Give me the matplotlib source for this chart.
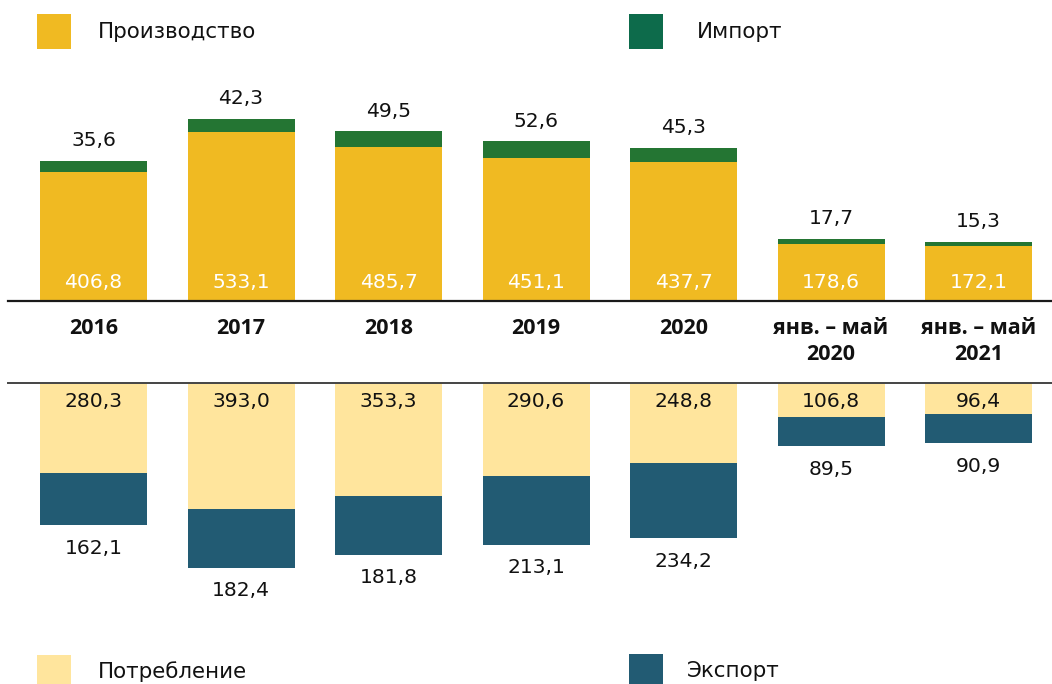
import matplotlib
matplotlib.use("Agg")
import matplotlib.pyplot as plt
from matplotlib.patches import Rectangle

categories = ["2016", "2017", "2018", "2019", "2020", "янв. – май\n2020", "янв. – май\n2021"]
production = [406.8, 533.1, 485.7, 451.1, 437.7, 178.6, 172.1]
imports = [35.6, 42.3, 49.5, 52.6, 45.3, 17.7, 15.3]
consumption = [280.3, 393.0, 353.3, 290.6, 248.8, 106.8, 96.4]
exports = [162.1, 182.4, 181.8, 213.1, 234.2, 89.5, 90.9]

C_PROD = "#F0BA22"
C_IMP = "#247533"
C_IMP_LEG = "#0D6B4B"
C_CONS = "#FFE59D"
C_EXP = "#225B73"

W, H, DPI = 1052, 684, 100
fig = plt.figure(figsize=(W / DPI, H / DPI), dpi=DPI)
VAL_FONT = "DejaVu Sans"
VAL_SIZE = 14.6

def fmt(v):
    return f"{v:.1f}".replace(".", ",")

x = list(range(len(categories)))
step = 147.5
c0 = 93.5
xlim = (-c0 / step, (W - c0) / step)
bw = 107 / step

# top axes (baseline at pixel y=301)
top_base = 301
ax_top = fig.add_axes([0, (H - top_base) / H, 1, top_base / H])
ax_top.set_xlim(*xlim)
ax_top.set_ylim(0, top_base / 0.317)
ax_top.axis("off")
ax_top.bar(x, production, width=bw, color=C_PROD)
ax_top.bar(x, imports, width=bw, bottom=production, color=C_IMP)
for xi, p, im in zip(x, production, imports):
    ax_top.annotate(fmt(p), (xi, 0), xytext=(0, 18), textcoords="offset pixels",
                    ha="center", va="center", color="white", fontsize=VAL_SIZE, family=VAL_FONT)
    ax_top.annotate(fmt(im), (xi, p + im), xytext=(0, 20), textcoords="offset pixels",
                    ha="center", va="center", color="#111111", fontsize=VAL_SIZE, family=VAL_FONT)

# bottom axes (baseline at pixel y=383)
bot_base = 383
ax_bot = fig.add_axes([0, 0, 1, (H - bot_base) / H])
ax_bot.set_xlim(*xlim)
ax_bot.set_ylim((H - bot_base) / 0.321, 0)
ax_bot.axis("off")
ax_bot.bar(x, consumption, width=bw, color=C_CONS)
ax_bot.bar(x, exports, width=bw, bottom=consumption, color=C_EXP)
for xi, c, e in zip(x, consumption, exports):
    ax_bot.annotate(fmt(c), (xi, 0), xytext=(0, -18), textcoords="offset pixels",
                    ha="center", va="center", color="#111111", fontsize=VAL_SIZE, family=VAL_FONT)
    ax_bot.annotate(fmt(e), (xi, c + e), xytext=(0, -23), textcoords="offset pixels",
                    ha="center", va="center", color="#111111", fontsize=VAL_SIZE, family=VAL_FONT)

# separator lines
fig.add_artist(plt.Line2D([8 / W, 1], [(H - top_base) / H] * 2, color="#1a1a1a", lw=1.6))
fig.add_artist(plt.Line2D([8 / W, 1], [(H - bot_base) / H] * 2, color="#444444", lw=1.4))

# category labels
for xi, cat in zip(x, categories):
    px = c0 + step * xi
    lines = cat.split("\n")
    for k, ln in enumerate(lines):
        fig.text(px / W, (H - (328 + 26 * k)) / H, ln, ha="center", va="center",
                 fontsize=15.5, fontweight="bold", family="Open Sans", color="#111111")

# legends
def legend_item(px, py0, py1, color, label, tx, ty):
    fig.add_artist(Rectangle((px / W, (H - py1) / H), 34 / W, (py1 - py0) / H,
                             transform=fig.transFigure, color=color, lw=0))
    fig.text(tx / W, (H - ty) / H, label, ha="left", va="center", fontsize=15.4,
             family=VAL_FONT, color="#111111")

legend_item(37, 14, 49, C_PROD, "Производство", 98, 32)
legend_item(629, 14, 49, C_IMP_LEG, "Импорт", 697, 32)
legend_item(37, 655, 690, C_CONS, "Потребление", 98, 672)
legend_item(629, 654, 690, C_EXP, "Экспорт", 687, 671)

fig.savefig("out.png", dpi=DPI)
